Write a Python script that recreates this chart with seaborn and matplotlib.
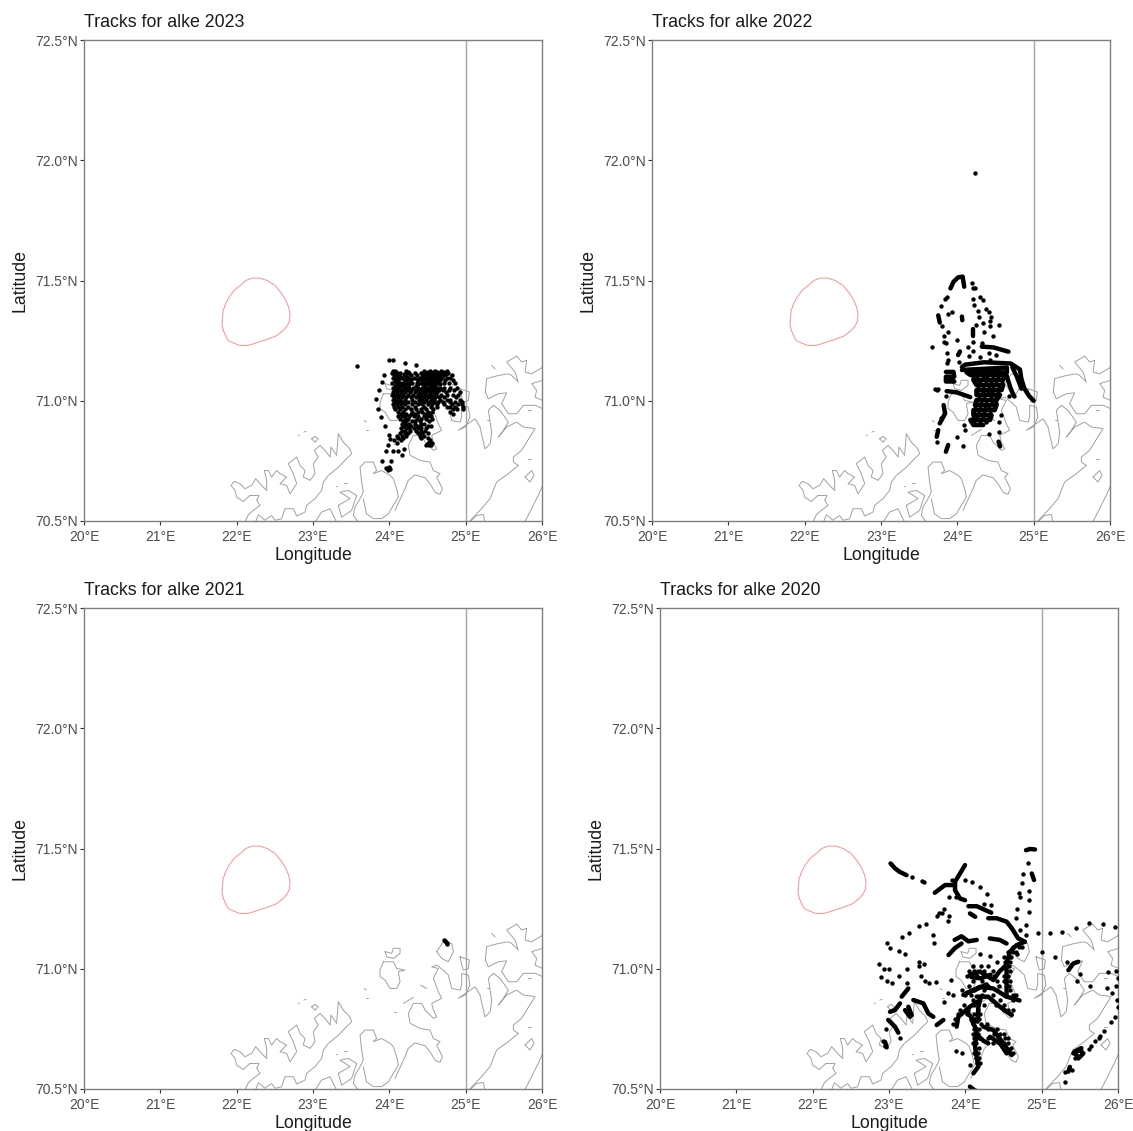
import matplotlib
matplotlib.use("Agg")
import matplotlib.pyplot as plt
import seaborn as sns
import pandas as pd

# --- axis ticks ---
lon_ticks = [20, 21, 22, 23, 24, 25, 26]
lat_ticks = [70.5, 71.0, 71.5, 72.0, 72.5]
meridian = 25
years = [2023, 2022, 2021, 2020]

# --- wind area outline ---
area_lon = [21.81, 21.82, 21.85, 21.90, 21.97, 22.05, 22.12, 22.20, 22.30, 22.40, 22.50, 22.58, 22.64, 22.68, 22.70,
            22.69, 22.66, 22.60, 22.52, 22.44, 22.35, 22.25, 22.15, 22.04, 21.96, 21.89, 21.84, 21.81, 21.81]
area_lat = [71.33, 71.37, 71.40, 71.43, 71.46, 71.48, 71.50, 71.51, 71.51, 71.50, 71.48, 71.45, 71.42, 71.39, 71.36,
            71.33, 71.31, 71.29, 71.27, 71.26, 71.25, 71.24, 71.23, 71.23, 71.24, 71.25, 71.28, 71.31, 71.33]

# --- coastline ---
coast = [
    [(22.10, 70.49), (22.153, 70.526), (22.218, 70.544), (22.306, 70.565), (22.262, 70.586), (22.292, 70.606), (22.175, 70.606),
     (22.087, 70.581), (22.00, 70.599), (21.978, 70.627), (21.926, 70.648), (21.969, 70.665), (22.044, 70.655), (22.109, 70.634),
     (22.196, 70.648), (22.249, 70.676), (22.327, 70.648), (22.393, 70.627), (22.393, 70.669), (22.362, 70.710), (22.415, 70.710),
     (22.458, 70.683), (22.524, 70.710), (22.568, 70.697), (22.655, 70.683), (22.568, 70.655), (22.655, 70.648), (22.699, 70.613),
     (22.786, 70.655), (22.742, 70.697), (22.677, 70.738), (22.786, 70.766), (22.83, 70.731), (22.895, 70.71), (22.873, 70.683),
     (22.961, 70.669), (23.026, 70.697), (23.004, 70.738), (23.07, 70.766), (23.017, 70.794), (23.092, 70.814), (23.157, 70.794),
     (23.223, 70.766), (23.236, 70.807), (23.31, 70.773), (23.332, 70.863), (23.397, 70.828), (23.485, 70.80), (23.506, 70.78),
     (23.419, 70.752), (23.31, 70.717), (23.201, 70.69), (23.135, 70.662), (23.113, 70.627), (23.026, 70.593), (22.917, 70.565),
     (22.895, 70.537), (22.786, 70.521), (22.742, 70.551), (22.633, 70.551), (22.589, 70.509), (22.502, 70.503), (22.458, 70.523),
     (22.371, 70.503), (22.284, 70.526), (22.24, 70.49)],
    [(23.026, 70.495), (23.113, 70.537), (23.223, 70.551), (23.266, 70.523), (23.31, 70.495)],
    [(23.332, 70.565), (23.485, 70.593), (23.354, 70.62), (23.463, 70.627), (23.572, 70.606), (23.528, 70.565), (23.506, 70.544),
     (23.375, 70.516), (23.332, 70.565)],
    [(23.594, 70.496), (23.528, 70.523), (23.55, 70.558), (23.616, 70.593), (23.659, 70.62), (23.637, 70.662), (23.616, 70.724),
     (23.681, 70.745), (23.79, 70.745), (23.834, 70.71), (23.79, 70.697), (23.899, 70.71), (24.009, 70.69), (24.052, 70.676),
     (24.096, 70.634), (24.118, 70.599), (24.052, 70.565), (23.987, 70.53), (23.9, 70.51), (23.79, 70.51), (23.70, 70.53),
     (23.659, 70.593)],
    [(24.074, 70.544), (24.205, 70.634), (24.249, 70.669), (24.337, 70.692), (24.468, 70.68), (24.533, 70.655), (24.599, 70.62),
     (24.664, 70.611), (24.695, 70.634), (24.62, 70.683), (24.664, 70.697), (24.577, 70.71), (24.533, 70.745), (24.402, 70.752),
     (24.271, 70.773), (24.249, 70.814), (24.315, 70.856), (24.424, 70.856), (24.468, 70.828), (24.577, 70.794), (24.62, 70.80),
     (24.577, 70.828), (24.555, 70.856), (24.686, 70.877), (24.642, 70.904), (24.577, 70.96), (24.642, 71.001), (24.555, 71.008),
     (24.62, 71.015), (24.708, 70.994), (24.773, 70.974), (24.817, 70.918), (24.926, 70.911), (24.948, 70.932), (24.948, 70.981),
     (25.035, 70.974), (25.057, 70.932), (24.992, 70.891), (24.904, 70.877), (25.123, 70.925), (25.188, 70.891), (25.232, 70.828),
     (25.254, 70.80), (25.319, 70.821), (25.341, 70.87), (25.297, 70.96), (25.363, 70.981), (25.45, 70.96), (25.559, 70.911),
     (25.494, 70.877), (25.428, 70.849), (25.537, 70.891), (25.668, 70.911), (25.756, 70.891), (25.909, 70.884), (25.799, 70.828),
     (25.734, 70.794), (25.625, 70.766), (25.625, 70.745), (25.69, 70.731), (25.559, 70.697), (25.406, 70.662), (25.319, 70.593),
     (25.188, 70.544), (25.022, 70.49)],
    [(25.765, 70.49), (25.93, 70.593), (26.01, 70.648)],
    [(25.035, 70.49), (25.144, 70.523), (25.232, 70.527), (25.254, 70.49)],
    [(25.258, 71.036), (25.275, 71.092), (25.428, 71.105), (25.559, 71.112), (25.603, 71.105), (25.69, 71.078), (25.647, 71.119),
     (25.537, 71.161), (25.668, 71.186), (25.734, 71.161), (25.799, 71.168), (25.778, 71.119), (25.865, 71.112), (26.01, 71.14)],
    [(26.01, 71.085), (25.865, 71.071), (25.93, 71.043), (25.909, 71.015), (26.01, 71.001)],
    [(25.258, 71.036), (25.297, 71.008), (25.428, 71.029), (25.537, 71.033), (25.472, 70.988), (25.559, 70.946), (25.668, 70.946),
     (25.756, 70.981), (25.909, 70.981), (26.01, 70.967)],
    [(24.62, 71.071), (24.708, 71.112), (24.817, 71.105), (24.839, 71.071), (24.773, 71.029), (24.686, 71.043), (24.62, 71.071)],
    [(24.926, 71.05), (25.048, 71.036), (25.035, 71.001), (24.97, 70.994), (24.948, 71.015), (24.926, 71.05)],
    [(23.922, 71.029), (24.053, 71.029), (24.096, 71.001), (24.205, 70.994), (24.118, 70.988), (24.14, 70.946), (24.096, 70.918),
     (24.009, 70.918), (23.944, 70.953), (23.878, 70.967), (23.878, 70.994), (23.922, 71.029)],
    [(23.944, 71.071), (24.031, 71.064), (24.053, 71.085), (24.14, 71.085), (24.14, 71.064), (24.053, 71.043), (23.965, 71.05),
     (23.944, 71.071)],
    [(25.778, 70.683), (25.865, 70.71), (25.896, 70.69), (25.843, 70.662), (25.778, 70.683)],
    [(22.982, 70.842), (23.026, 70.852), (23.07, 70.842), (23.026, 70.828), (22.982, 70.842)],
    [(25.341, 71.147), (25.385, 71.133)], [(24.41, 70.932), (24.49, 70.918)], [(24.184, 70.856), (24.315, 70.881)],
    [(24.06, 70.821), (24.09, 70.821)], [(25.28, 70.918), (25.31, 70.918)], [(25.82, 70.759), (25.86, 70.759)],
    [(25.82, 70.96), (25.86, 70.96)], [(23.67, 70.918), (23.70, 70.912)], [(23.69, 70.877), (23.72, 70.877)],
    [(22.88, 70.87), (22.91, 70.873)], [(22.80, 70.859), (22.815, 70.859)], [(23.40, 70.658), (23.44, 70.658)],
    [(23.30, 70.645), (23.32, 70.645)],
]

# --- 2023 fixes, by latitude row ---
rows_2023 = {
    71.125: [24.05, 24.08, 24.22, 24.45, 24.53, 24.60, 24.68, 24.75],
    71.119: [24.09, 24.24, 24.50, 24.57, 24.63, 24.71],
    71.115: [24.04, 24.10, 24.14, 24.23, 24.26, 24.33, 24.41, 24.48, 24.52, 24.56, 24.60, 24.64, 24.70, 24.77],
    71.110: [24.07, 24.13, 24.19, 24.47, 24.54, 24.61, 24.67, 24.74],
    71.105: [24.06, 24.11, 24.20, 24.28, 24.36, 24.44, 24.50, 24.55, 24.59, 24.63, 24.66, 24.72, 24.82],
    71.099: [24.08, 24.15, 24.23, 24.43, 24.48, 24.53, 24.58, 24.62, 24.69],
    71.095: [24.05, 24.09, 24.13, 24.17, 24.25, 24.32, 24.40, 24.46, 24.51, 24.55, 24.60, 24.64, 24.68, 24.75, 24.80],
    71.090: [24.11, 24.19, 24.29, 24.36, 24.42, 24.50, 24.56, 24.63],
    71.085: [24.08, 24.12, 24.22, 24.27, 24.38, 24.44, 24.49, 24.53, 24.57, 24.61, 24.66, 24.73, 24.84],
    71.075: [24.04, 24.09, 24.14, 24.18, 24.24, 24.30, 24.36, 24.42, 24.47, 24.52, 24.56, 24.60, 24.64, 24.71, 24.78, 24.86],
    71.069: [24.12, 24.20, 24.26, 24.38, 24.44, 24.50, 24.57, 24.66],
    71.060: [24.08, 24.14, 24.18, 24.24, 24.35, 24.47, 24.55, 24.60],
    71.055: [24.05, 24.09, 24.13, 24.20, 24.26, 24.31, 24.37, 24.43, 24.48, 24.52, 24.57, 24.62, 24.67, 24.72, 24.80, 24.88],
    71.045: [24.07, 24.12, 24.17, 24.23, 24.29, 24.35, 24.41, 24.46, 24.50, 24.55, 24.60, 24.65, 24.70, 24.78, 24.85],
    71.035: [24.05, 24.10, 24.15, 24.21, 24.27, 24.33, 24.39, 24.44, 24.48, 24.53, 24.58, 24.63, 24.74, 24.92],
    71.025: [24.04, 24.08, 24.13, 24.18, 24.25, 24.31, 24.37, 24.42, 24.47, 24.52, 24.56, 24.61, 24.68, 24.76, 24.83, 24.90],
    71.015: [24.06, 24.11, 24.16, 24.22, 24.28, 24.35, 24.40, 24.45, 24.50, 24.55, 24.60, 24.65, 24.72, 24.87],
    71.005: [24.05, 24.09, 24.14, 24.20, 24.30, 24.39, 24.43, 24.48, 24.54, 24.59, 24.66, 24.75, 24.80, 24.92],
    70.995: [24.07, 24.12, 24.17, 24.25, 24.33, 24.42, 24.46, 24.52, 24.58, 24.64, 24.70, 24.79, 24.86, 24.95],
    70.985: [24.05, 24.10, 24.15, 24.20, 24.30, 24.37, 24.43, 24.50, 24.56, 24.62, 24.72, 24.82, 24.90, 24.95],
    70.975: [24.06, 24.11, 24.16, 24.24, 24.34, 24.45, 24.55, 24.63, 24.76, 24.80, 24.86, 24.96],
    70.965: [24.08, 24.14, 24.20, 24.28, 24.35, 24.42, 24.48, 24.57, 24.83, 24.88, 24.97],
    70.955: [24.12, 24.18, 24.30, 24.37, 24.43, 24.50, 24.56, 24.80],
    70.945: [24.15, 24.22, 24.28, 24.33, 24.47, 24.52, 24.83],
    70.935: [24.12, 24.16, 24.21, 24.26, 24.32, 24.38, 24.45, 24.50, 24.55],
    70.925: [24.14, 24.20, 24.25, 24.36, 24.42, 24.48, 24.56],
    70.915: [24.18, 24.22, 24.30, 24.34, 24.40, 24.52],
    70.905: [24.16, 24.20, 24.26, 24.33, 24.42, 24.46],
    70.895: [24.18, 24.24, 24.28, 24.36, 24.40, 24.50, 24.55],
    70.885: [24.15, 24.22, 24.26, 24.32, 24.38, 24.42, 24.48],
    70.875: [24.17, 24.21, 24.27, 24.35, 24.41, 24.47],
    70.865: [24.14, 24.20, 24.24, 24.37, 24.43, 24.50],
    70.855: [24.10, 24.16, 24.22, 24.40, 24.45],
    70.845: [24.12, 24.18, 24.42, 24.50],
    70.835: [24.06, 24.15, 24.53],
    70.825: [24.10, 24.50, 24.53, 24.56],
    70.815: [24.48, 24.52, 24.55],
}
dots_2023 = [(23.58, 71.143), (24.0, 71.17), (24.05, 71.168), (24.2, 71.157), (24.35, 71.15), (23.93, 71.105), (23.9, 71.08),
             (23.865, 71.043), (23.83, 71.007), (23.845, 70.967), (23.885, 70.932), (23.94, 70.893), (24.0, 70.859), (24.01, 70.84),
             (23.98, 70.817), (23.95, 70.792), (24.05, 70.79), (24.12, 70.79), (24.19, 70.80), (24.16, 70.775), (23.90, 70.75),
             (24.02, 70.748), (23.96, 70.72), (24.0, 70.72), (23.98, 70.713), (23.99, 70.725), (24.01, 70.715)]
tracks_2023 = []

# --- 2022 fixes ---
rows_2022 = {
    71.096: [24.20, 24.26, 24.33, 24.39, 24.47, 24.53, 24.60],
    71.075: [24.24, 24.30, 24.37, 24.44, 24.50, 24.58],
    71.055: [24.27, 24.33, 24.41, 24.47, 24.55],
    71.034: [24.26, 24.34, 24.40, 24.46, 24.53],
    71.013: [24.28, 24.35, 24.44, 24.50],
    70.992: [24.25, 24.31, 24.38, 24.45, 24.50],
    70.971: [24.23, 24.30, 24.36, 24.42, 24.48],
    70.950: [24.22, 24.28, 24.35, 24.43],
    70.930: [24.20, 24.26, 24.33, 24.41],
    70.910: [24.22, 24.30, 24.38],
}
dots_2022 = [(24.23, 71.947), (24.19, 71.49), (24.23, 71.47), (24.20, 71.47), (23.86, 71.43), (23.84, 71.425), (24.21, 71.425),
             (24.30, 71.43), (24.33, 71.42), (24.22, 71.40), (24.27, 71.375), (24.37, 71.38), (24.42, 71.37), (24.44, 71.35),
             (24.43, 71.33), (24.43, 71.31), (24.28, 71.35), (24.25, 71.315), (24.34, 71.325), (24.35, 71.285), (24.47, 71.27),
             (24.55, 71.315), (23.79, 71.395), (23.88, 71.36), (23.93, 71.37), (23.80, 71.31), (23.88, 71.287), (23.82, 71.27),
             (23.83, 71.245), (24.0, 71.252), (24.21, 71.245), (23.67, 71.222), (23.85, 71.24), (23.86, 71.197), (23.87, 71.155),
             (23.88, 71.17), (24.14, 71.222), (24.21, 71.205), (24.32, 71.24), (24.42, 71.20), (24.51, 71.19), (24.43, 71.17),
             (24.30, 71.18), (24.15, 71.185), (24.02, 71.16), (23.71, 71.05), (23.73, 71.045), (23.75, 71.05), (23.85, 71.02),
             (23.78, 70.93), (24.54, 70.87), (24.0, 70.85), (24.10, 70.88), (24.42, 70.86), (23.73, 70.83), (24.09, 70.90),
             (24.55, 70.91), (24.57, 70.94), (24.68, 71.02), (24.74, 71.02), (24.08, 70.81)]
tracks_2022 = [
    [(23.91, 71.467), (23.95, 71.495), (24.01, 71.513), (24.07, 71.516), (24.09, 71.474)],
    [(23.75, 71.355), (23.77, 71.325)], [(24.06, 71.35), (24.065, 71.335)], [(24.21, 71.30), (24.21, 71.27)],
    [(24.035, 71.205), (24.01, 71.19)], [(24.32, 71.225), (24.47, 71.222), (24.67, 71.204)],
    [(23.82, 70.982), (23.84, 70.947), (23.77, 70.906)], [(23.75, 70.878), (23.73, 70.85)], [(23.88, 70.816), (23.85, 70.788)],
    [(24.54, 70.83), (24.56, 70.81)], [(23.86, 71.04), (23.99, 71.035), (24.17, 71.015)],
    [(23.85, 71.12), (23.95, 71.12), (23.96, 71.10), (23.85, 71.10), (23.85, 71.08), (23.96, 71.08), (23.90, 71.09)],
    [(24.06, 71.14), (24.10, 71.15), (24.35, 71.16), (24.70, 71.155), (24.82, 71.13), (24.84, 71.09), (24.88, 71.05), (24.94, 71.02), (25.0, 71.0)],
    [(24.06, 71.128), (24.65, 71.138), (24.65, 71.118), (24.12, 71.118), (24.17, 71.107), (24.62, 71.107), (24.60, 71.086),
     (24.21, 71.086), (24.25, 71.065), (24.60, 71.065), (24.58, 71.044), (24.25, 71.044), (24.25, 71.024), (24.56, 71.024),
     (24.515, 71.003), (24.25, 71.003), (24.23, 70.982), (24.515, 70.982), (24.49, 70.961), (24.21, 70.961), (24.21, 70.94),
     (24.45, 70.94), (24.43, 70.92), (24.17, 70.92), (24.21, 70.899), (24.34, 70.899)],
    [(24.72, 71.14), (24.78, 71.10), (24.84, 71.05)],
    [(24.64, 71.11), (24.70, 71.05), (24.74, 71.02)],
]

# --- 2021 fixes ---
rows_2021 = {}
dots_2021 = [(24.72, 71.118), (24.73, 71.115), (24.74, 71.111), (24.75, 71.108), (24.755, 71.104)]
tracks_2021 = []

# --- 2020 fixes ---
rows_2020 = {
    71.09: [24.62, 24.70, 24.74],
    71.07: [24.56, 24.62, 24.66],
    71.05: [24.50, 24.58, 24.60],
    71.03: [24.52, 24.58],
    71.01: [24.10, 24.20, 24.30, 24.50, 24.57],
    70.99: [24.05, 24.12, 24.25, 24.36, 24.58],
    70.97: [24.02, 24.15, 24.38, 24.50, 24.56],
    70.95: [24.10, 24.22, 24.42, 24.50, 24.58],
    70.93: [24.05, 24.30, 24.44, 24.57],
    70.91: [23.95, 24.12, 24.25, 24.42, 24.58],
    70.89: [24.00, 24.08, 24.22, 24.36, 24.50, 24.62, 24.66],
    70.87: [24.10, 24.35, 24.45, 24.62, 24.70],
    70.85: [23.98, 24.12, 24.24, 24.40, 24.50],
    70.83: [23.93, 24.04, 24.16, 24.50, 24.56, 24.62],
    70.81: [23.90, 24.02, 24.12, 24.19, 24.60],
    70.79: [23.87, 24.07, 24.13, 24.18],
    70.77: [23.84, 24.10, 24.20, 24.28],
    70.75: [24.12, 24.18, 24.30, 24.42],
    70.73: [24.10, 24.16, 24.38, 24.46, 24.50],
    70.71: [24.12, 24.18, 24.30, 24.44, 24.52, 24.56],
    70.69: [24.10, 24.14, 24.36, 24.50, 24.56],
    70.67: [24.13, 24.18, 24.52, 24.60],
    70.65: [24.12, 24.16, 24.58, 24.62],
    70.63: [24.14, 24.18],
    70.61: [24.15, 24.19],
}
dots_2020 = [(23.30, 71.38), (23.43, 71.363), (23.46, 71.36), (23.82, 71.37), (23.99, 71.37), (24.09, 71.36), (24.19, 71.34), (24.29, 71.31),
             (23.79, 71.30), (23.88, 71.30), (23.72, 71.25), (23.63, 71.22), (23.65, 71.23), (24.25, 71.27), (24.34, 71.265),
             (24.68, 71.25), (24.67, 71.21), (24.83, 71.235), (24.83, 71.285), (24.84, 71.325), (24.72, 71.30), (24.70, 71.315),
             (24.74, 71.355), (24.76, 71.396), (24.82, 71.438), (24.79, 71.14), (24.71, 71.16), (24.80, 71.18), (24.95, 71.147),
             (25.11, 71.147), (25.27, 71.152), (25.45, 71.17), (25.62, 71.192), (25.80, 71.187), (25.96, 71.173),
             (23.00, 71.00), (23.17, 71.13), (23.26, 71.15), (23.39, 71.178), (23.48, 71.185), (22.98, 71.105), (23.01, 71.085),
             (23.13, 71.075), (23.21, 71.06), (23.39, 71.03), (23.59, 71.105), (23.57, 71.14), (23.77, 71.20), (23.78, 71.22),
             (23.70, 71.23), (22.87, 71.02), (22.93, 71.00), (22.90, 70.965), (22.97, 70.95), (23.04, 70.94), (23.13, 70.97),
             (23.24, 71.00), (23.24, 70.94), (23.39, 71.01), (23.46, 71.02), (23.42, 70.97), (23.47, 70.95), (23.52, 70.94),
             (23.61, 70.945), (23.81, 70.955), (23.77, 70.90), (23.72, 70.86), (23.84, 70.89), (24.19, 71.06), (24.32, 71.055),
             (24.41, 71.03), (24.68, 71.06), (25.0, 71.07), (25.17, 71.05), (25.33, 71.03), (25.46, 70.95), (25.50, 70.98),
             (25.97, 70.99), (25.87, 70.985), (26.0, 70.96), (25.63, 70.93), (25.97, 70.93), (25.86, 70.92), (25.92, 70.90),
             (25.99, 70.87), (26.0, 70.84), (25.96, 70.80), (25.91, 70.78), (25.82, 70.74), (25.77, 70.72), (25.70, 70.70),
             (25.65, 70.68), (25.62, 70.665), (25.75, 70.71), (25.40, 70.58), (25.31, 70.57), (25.30, 70.53), (25.44, 70.63),
             (24.06, 70.60), (23.95, 70.65), (23.88, 70.66), (23.15, 70.71), (22.96, 70.75), (22.95, 70.68), (22.92, 70.70)]
tracks_2020 = [
    [(23.02, 71.438), (23.08, 71.417), (23.14, 71.403), (23.23, 71.389)],
    [(24.795, 71.493), (24.847, 71.498), (24.913, 71.496)],
    [(23.996, 71.431), (23.93, 71.396), (23.865, 71.362), (23.865, 71.327), (23.93, 71.292), (23.996, 71.285)],
    [(23.865, 71.348), (23.734, 71.348), (23.60, 71.316)],
    [(24.87, 71.396), (24.90, 71.369)],
    [(24.04, 71.26), (24.15, 71.26), (24.24, 71.247), (24.34, 71.233)],
    [(24.06, 71.23), (24.13, 71.216)],
    [(24.30, 71.21), (24.41, 71.21), (24.54, 71.196), (24.61, 71.168), (24.69, 71.127), (24.78, 71.112)],
    [(24.78, 71.112), (24.67, 71.098), (24.585, 71.071), (24.54, 71.022), (24.54, 70.953), (24.54, 70.884), (24.69, 70.87)],
    [(23.86, 71.12), (23.95, 71.135), (24.04, 71.114), (24.15, 71.12)],
    [(23.78, 71.057), (23.86, 71.085), (23.95, 71.105)],
    [(24.32, 71.126), (24.45, 71.12), (24.54, 71.105)],
    [(24.06, 70.974), (24.192, 70.988), (24.30, 70.967), (24.367, 70.953), (24.45, 70.99), (24.54, 71.015)],
    [(24.08, 70.965), (24.20, 70.96), (24.33, 70.975)],
    [(23.974, 70.891), (24.192, 70.925), (24.367, 70.918), (24.541, 70.884)],
    [(24.02, 70.90), (24.15, 70.915), (24.28, 70.935)],
    [(24.148, 70.884), (24.30, 70.884), (24.454, 70.842), (24.607, 70.807)],
    [(23.886, 70.759), (23.908, 70.80), (24.06, 70.842), (24.192, 70.87)],
    [(24.083, 70.787), (24.148, 70.745), (24.127, 70.676), (24.17, 70.593), (24.105, 70.565)],
    [(24.02, 70.82), (24.10, 70.79), (24.16, 70.78), (24.17, 70.84), (24.20, 70.88)],
    [(24.236, 70.759), (24.367, 70.745), (24.498, 70.69), (24.607, 70.641)],
    [(24.323, 70.717), (24.454, 70.69), (24.541, 70.648)],
    [(24.17, 70.72), (24.24, 70.70), (24.30, 70.69)],
    [(24.06, 70.51), (24.12, 70.495), (24.20, 70.485)],
    [(23.013, 70.821), (23.079, 70.828), (23.144, 70.856)],
    [(23.21, 70.828), (23.275, 70.80)], [(23.253, 70.842), (23.297, 70.807)],
    [(23.319, 70.87), (23.45, 70.856), (23.515, 70.814), (23.581, 70.80)],
    [(23.624, 70.766), (23.712, 70.787)],
    [(22.99, 70.787), (23.079, 70.759), (23.122, 70.734)],
    [(22.948, 70.696), (22.97, 70.673)],
    [(23.166, 70.884), (23.253, 70.918)],
    [(25.48, 71.029), (25.415, 71.022), (25.35, 70.994)],
    [(25.415, 70.648), (25.50, 70.662), (25.546, 70.648), (25.48, 70.627), (25.43, 70.655), (25.52, 70.67)],
    [(25.37, 70.592), (25.35, 70.572)],
]

LON_MIN, LON_MAX = lon_ticks[0], lon_ticks[-1]
LAT_MIN, LAT_MAX = lat_ticks[0], lat_ticks[-1]

W, H = 1133, 1131
# left, top of every panel in pixels
boxes = {2023: (84, 40), 2022: (652, 40), 2021: (84, 608), 2020: (660, 608)}
AX_W, AX_H = 458, 481

sns.set_theme(style="ticks")
plt.rcParams["font.family"] = ["Liberation Sans", "DejaVu Sans"]


def long_table(segments):
    recs = []
    for i, seg in enumerate(segments):
        for lon, lat in seg:
            recs.append({"seg": i, "lon": lon, "lat": lat})
    return pd.DataFrame(recs)


def draw_panel(fig, year, rows, dots, tracks):
    left, top = boxes[year]
    ax = fig.add_axes([left / W, 1 - (top + AX_H) / H, AX_W / W, AX_H / H])

    sns.lineplot(data=long_table(coast), x="lon", y="lat", units="seg", estimator=None, sort=False,
                 color="#a0a0a0", linewidth=0.7, ax=ax)
    sns.lineplot(x=area_lon, y=area_lat, estimator=None, sort=False, color="#ff8f8f", linewidth=0.7, ax=ax)
    ax.axvline(meridian, color="#a6a6a6", linewidth=1.0, zorder=1)

    if tracks:
        sns.lineplot(data=long_table(tracks), x="lon", y="lat", units="seg", estimator=None, sort=False,
                     color="black", linewidth=3.2, ax=ax)
    pts = list(dots)
    for lat, lons in rows.items():
        pts += [(lon, lat) for lon in lons]
    df = pd.DataFrame(pts, columns=["lon", "lat"])
    sns.scatterplot(data=df, x="lon", y="lat", color="black", s=10, linewidth=0, ax=ax, legend=False, zorder=5)

    ax.set_xlim(LON_MIN, LON_MAX)
    ax.set_ylim(LAT_MIN, LAT_MAX)
    ax.set_xticks(lon_ticks)
    ax.set_xticklabels([f"{v}°E" for v in lon_ticks])
    ax.set_yticks(lat_ticks)
    ax.set_yticklabels([f"{v:.1f}°N" for v in lat_ticks])
    ax.tick_params(labelsize=10, labelcolor="#4d4d4d", color="#333333", length=3, width=0.8, pad=1.5)
    ax.tick_params(axis="x", pad=3.5)
    for s in ax.spines.values():
        s.set_visible(True)
        s.set_color("#7f7f7f")
        s.set_linewidth(1.0)

    ax.set_xlabel("Longitude", fontsize=12.8, color="#1a1a1a", labelpad=2.5)
    ax.set_ylabel("Latitude", fontsize=12.8, color="#1a1a1a", labelpad=5)
    ax.set_title(f"Tracks for alke {year}", loc="left", fontsize=12.8, color="#1a1a1a", pad=9.5)


fig = plt.figure(figsize=(W / 100, H / 100), dpi=100, facecolor="white")
draw_panel(fig, 2023, rows_2023, dots_2023, tracks_2023)
draw_panel(fig, 2022, rows_2022, dots_2022, tracks_2022)
draw_panel(fig, 2021, rows_2021, dots_2021, tracks_2021)
draw_panel(fig, 2020, rows_2020, dots_2020, tracks_2020)
fig.savefig("out.png", dpi=100)
